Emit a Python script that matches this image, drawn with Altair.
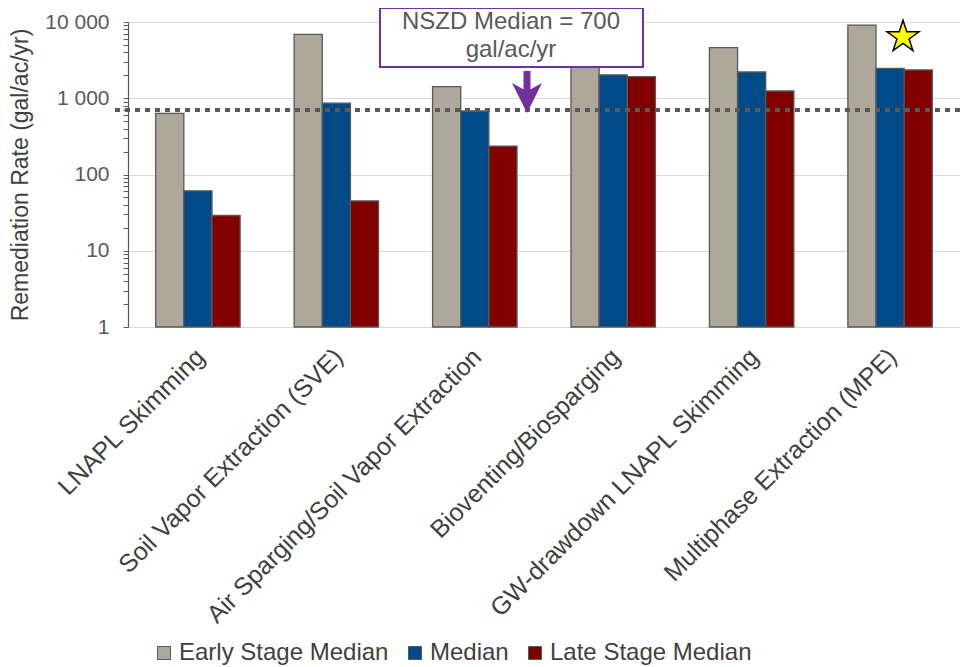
import altair as alt
import pandas as pd

categories = [
    "LNAPL Skimming",
    "Soil Vapor Extraction (SVE)",
    "Air Sparging/Soil Vapor Extraction",
    "Bioventing/Biosparging",
    "GW-drawdown LNAPL Skimming",
    "Multiphase Extraction (MPE)",
]
series = ["Early Stage Median", "Median", "Late Stage Median"]
early = [635, 6900, 1420, 3000, 4600, 9100]
median = [61, 860, 680, 2020, 2210, 2470]
late = [29, 45, 236, 1920, 1245, 2350]
colors = ["#ADA89A", "#004B87", "#800000"]
nszd_median = 700
y_ticks = [m * 10 ** k for k in range(4) for m in range(1, 10)] + [10000]

rows = []
for i, c in enumerate(categories):
    for s, vals in zip(series, [early, median, late]):
        rows.append({"category": c, "series": s, "value": vals[i], "base": 1})
df = pd.DataFrame(rows)

FONT = "Liberation Sans"
W, H = 832, 305

is_decade = "indexof([1,10,100,1000,10000], datum.value) >= 0"

bars = alt.Chart(df).mark_bar(stroke="#595959", strokeWidth=1.3).encode(
    x=alt.X(
        "category:N",
        sort=categories,
        scale=alt.Scale(paddingInner=0.39, paddingOuter=0.2),
        axis=alt.Axis(
            title=None,
            labelAngle=-45,
            labelAlign="right",
            labelBaseline="top",
            labelFontSize=25,
            labelFont=FONT,
            labelColor="#404040",
            labelLimit=600,
            labelPadding=17,
            labelOffset=-6,
            domain=False,
            ticks=False,
        ),
    ),
    xOffset=alt.XOffset("series:N", sort=series),
    y=alt.Y(
        "value:Q",
        scale=alt.Scale(type="log", domain=[1, 10000], nice=False),
        axis=alt.Axis(
            title="Remediation Rate (gal/ac/yr)",
            titleFont=FONT,
            titleFontSize=23,
            titleFontWeight="normal",
            titleColor="#404040",
            titleX=-108,
            titleBaseline="middle",
            values=y_ticks,
            labelExpr=is_decade + " ? replace(format(datum.value, ','), ',', ' ') : ''",
            labelFont=FONT,
            labelFontSize=21,
            labelColor="#595959",
            labelPadding=14,
            tickSize=5,
            tickColor="#595959",
            domainColor="#595959",
            domainWidth=1.2,
            gridColor="#d9d9d9",
            gridOpacity={"condition": {"test": is_decade, "value": 1}, "value": 0},
        ),
    ),
    y2="base:Q",
    color=alt.Color(
        "series:N",
        sort=series,
        scale=alt.Scale(domain=series, range=colors),
        legend=alt.Legend(
            title=None,
            orient="none",
            direction="horizontal",
            legendX=24,
            legendY=619,
            symbolType="square",
            symbolSize=169,
            symbolStrokeColor="#595959",
            symbolStrokeWidth=1,
            labelFont=FONT,
            labelFontSize=24,
            labelColor="#404040",
            labelOffset=3,
            columnPadding=14,
            labelLimit=400,
        ),
    ),
)

one = pd.DataFrame({"v": [nszd_median]})

dotted = alt.Chart(one).mark_rule(
    color="#595959", strokeWidth=4, strokeDash=[5, 5]
).encode(y="v:Q", x=alt.value(-13), x2=alt.value(836))

box = alt.Chart(one).mark_rect(
    fill="white", stroke="#7030A0", strokeWidth=2
).encode(x=alt.value(252), x2=alt.value(515), y=alt.value(-14), y2=alt.value(45))

box_text = alt.Chart(one).mark_text(
    font=FONT, fontSize=24, color="#595959", baseline="middle", align="center",
    lineBreak="\n", lineHeight=28,
).encode(
    x=alt.value(383), y=alt.value(0),
    text=alt.value("NSZD Median = 700\ngal/ac/yr"),
)

shaft = alt.Chart(one).mark_rule(color="#7030A0", strokeWidth=7).encode(
    x=alt.value(399), y=alt.value(49), y2=alt.value(72)
)
head = alt.Chart(one).mark_point(
    shape="M0,1 L-1,-1 L0,-0.45 L1,-1 Z", filled=True, color="#7030A0", opacity=1, size=900
).encode(x=alt.value(399), y=alt.value(76))

star = alt.Chart(one).mark_point(
    shape="M0,-1 L0.2245,-0.309 L0.951,-0.309 L0.363,0.118 L0.588,0.809 L0,0.382 L-0.588,0.809 L-0.363,0.118 L-0.951,-0.309 L-0.2245,-0.309 Z",
    filled=True, fill="#FFFF00", stroke="black", strokeWidth=1.5, opacity=1, size=1130,
).encode(x=alt.value(775), y=alt.value(15))

chart = alt.layer(bars, dotted, box, box_text, shaft, head, star).properties(
    width=W,
    height=H,
    autosize=alt.AutoSizeParams(type="none"),
    padding={"left": 120, "top": 14, "right": 3, "bottom": 340},
).configure_view(stroke=None)

chart.save("out.html", embed_options={"renderer": "svg", "actions": False})
